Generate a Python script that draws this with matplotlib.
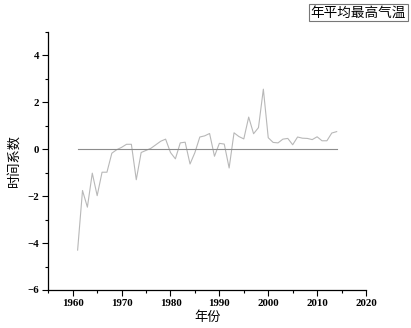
import matplotlib
matplotlib.use("Agg")
import matplotlib.pyplot as plt
from matplotlib.ticker import MultipleLocator

years = list(range(1961, 2015))
values = [-4.30, -1.76, -2.47, -1.02, -1.98, -0.98, -0.98, -0.17, -0.02, 0.08,
          0.21, 0.21, -1.30, -0.14, -0.05, 0.04, 0.19, 0.34, 0.43, -0.14,
          -0.41, 0.27, 0.30, -0.63, -0.14, 0.52, 0.57, 0.67, -0.30, 0.25,
          0.22, -0.80, 0.70, 0.54, 0.44, 1.37, 0.66, 0.92, 2.56, 0.49,
          0.29, 0.27, 0.43, 0.46, 0.19, 0.52, 0.47, 0.46, 0.41, 0.53,
          0.36, 0.36, 0.69, 0.75]
zero_line = [0.0, 0.0]
zero_years = [1961, 2014]

title_text = "年平均最高气温"
xlabel = "年份"
ylabel = "时间系数"

cjk = ['Noto Sans CJK SC', 'DejaVu Sans']
serif = ['Liberation Serif', 'DejaVu Serif']

fig = plt.figure(figsize=(4.11, 3.28), dpi=100)
ax = fig.add_axes([0.1175, 0.1159, 0.773, 0.7868])

ax.plot(years, values, color='#b8b8b8', lw=0.8)
ax.plot(zero_years, zero_line, color='#8c8c8c', lw=0.8)

ax.set_xlim(1955, 2020)
ax.set_ylim(-6, 5)
ax.xaxis.set_minor_locator(MultipleLocator(5))
ax.yaxis.set_major_locator(MultipleLocator(2))
ax.yaxis.set_minor_locator(MultipleLocator(1))
ax.set_xticks([1960, 1970, 1980, 1990, 2000, 2010, 2020])

for s in ['top', 'right']:
    ax.spines[s].set_visible(False)
for s in ['left', 'bottom']:
    ax.spines[s].set_linewidth(0.9)

ax.tick_params(which='major', direction='out', length=4.5, width=0.8, pad=2)
ax.tick_params(which='minor', direction='out', length=2.5, width=0.8)
for lab in ax.get_xticklabels() + ax.get_yticklabels():
    lab.set_fontfamily(serif)
    lab.set_fontsize(7.8)
    lab.set_fontweight('bold')

ax.set_xlabel(xlabel, family=cjk, fontsize=9.5, fontweight='medium', labelpad=2)
ax.set_ylabel(ylabel, family=cjk, fontsize=9.5, fontweight='medium', labelpad=5)

fig.text(0.9878, 0.961, title_text, family=cjk, fontsize=9.8, ha='right', va='center',
         bbox=dict(boxstyle='square,pad=0.12', fc='white', ec='#777777', lw=0.8))

fig.savefig('out.png', dpi=100)
